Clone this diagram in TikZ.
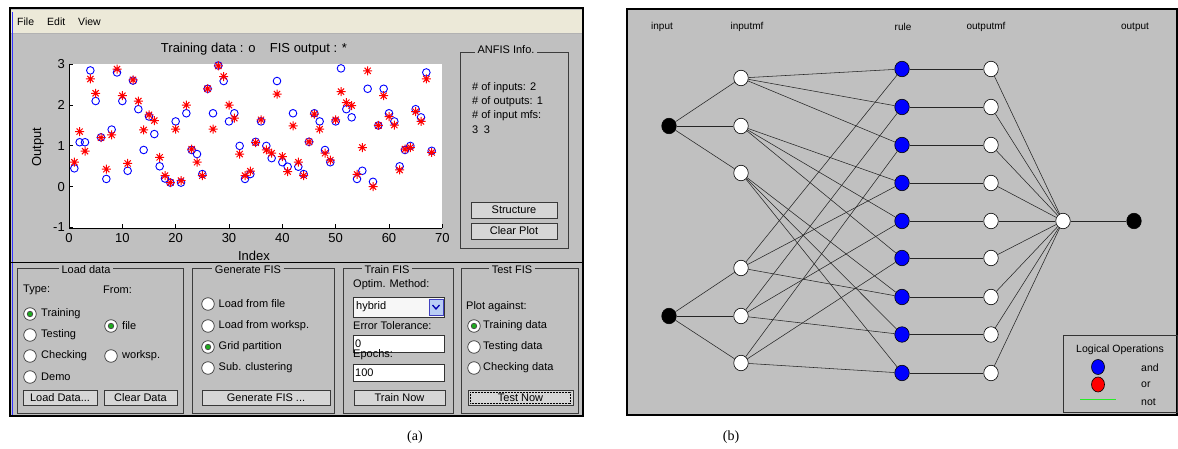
\documentclass[tikz,border=0pt]{standalone}
\usepackage{fontspec}
\setmainfont{Liberation Sans}
\newfontfamily\capfont{Liberation Serif}
\usetikzlibrary{shapes.geometric}
\definecolor{guigray}{RGB}{192,192,192}
\definecolor{menubg}{RGB}{236,233,216}
\definecolor{btnface}{RGB}{214,214,214}
\definecolor{framedark}{RGB}{60,60,60}
\definecolor{mblue}{RGB}{0,0,255}
\definecolor{mred}{RGB}{255,0,0}
\definecolor{chk}{RGB}{30,170,30}
\definecolor{arrowbtn}{RGB}{185,205,245}
\definecolor{legline}{RGB}{40,235,40}
\tikzset{
  guitxt/.style={font=\fontsize{11}{13}\selectfont, inner sep=0pt, anchor=west},
  plottxt/.style={font=\fontsize{13}{15}\selectfont, inner sep=0pt},
  frametitle/.style={font=\fontsize{11}{13}\selectfont, fill=guigray, inner xsep=3pt, inner ysep=1pt},
  guiframe/.style={draw=framedark, line width=0.8pt},
  guibtn/.style={draw=gray!45!black, fill=btnface, font=\fontsize{11}{13}\selectfont, inner sep=0pt, minimum height=15.5pt},
  radiobtn/.style={circle, draw=gray!45!black, fill=white, minimum size=12.5pt, inner sep=0pt, line width=0.7pt},
  radioon/.style={radiobtn, path picture={\fill[gray!60!black] (path picture bounding box.center) circle (3.2pt);\fill[chk] (path picture bounding box.center) circle (2.2pt);}},
  field/.style={draw=gray!40!black, fill=white, line width=0.6pt},
  nettxt/.style={font=\fontsize{10}{12}\selectfont, inner sep=0pt},
  netnode/.style={ellipse, minimum width=14.5pt, minimum height=15.5pt, inner sep=0pt, draw=black, line width=0.6pt},
  inpnode/.style={netnode, fill=black},
  mfnode/.style={netnode, fill=white},
  rulenode/.style={netnode, fill=mblue},
  ornode/.style={netnode, fill=mred},
  netedge/.style={draw=black!85, line width=0.55pt},
}
\begin{document}
\begin{tikzpicture}[x=1pt,y=-1pt]
\useasboundingbox (0,0) rectangle (1178,449);

% ===================== (a) ANFIS editor window =====================
\fill[guigray] (10,8) rectangle (583,416);
\fill[menubg] (11,10) rectangle (583,33);
\draw[gray!60, line width=0.6pt] (11,33.5) -- (583,33.5);
\draw[mblue!80, line width=1pt] (12,12) -- (12,415);
\draw[black, line width=1.6pt] (10,8) rectangle (583,416);
\node[guitxt, font=\fontsize{10.5}{12}\selectfont] (mfile) at (17,22) {File};
\node[guitxt, font=\fontsize{10.5}{12}\selectfont] (medit) at (47,22) {Edit};
\node[guitxt, font=\fontsize{10.5}{12}\selectfont] (mview) at (78,22) {View};

% plot
\node[plottxt] (ptitle) at (254,49) {Training data : o\hspace{1.1em}FIS output : *};
\fill[white] (69,64) rectangle (442,228);
\draw[black, line width=0.8pt] (69,64) -- (69,228) -- (442,228);
\foreach \v/\yy in {3/64,2/104.9,1/145.7,0/186.7,-1/227.5}{
  \draw[black, line width=0.7pt] (69,\yy) -- (72.5,\yy);
  \node[plottxt, anchor=east] at (65,\yy) {\v};
}
\foreach \k in {0,10,...,70}{
  \pgfmathsetmacro\xx{69+5.3333*\k}
  \draw[black, line width=0.7pt] (\xx,228) -- (\xx,224.5);
  \node[plottxt] at (\xx,238) {\k};
}
\node[plottxt] (xlab) at (254,256) {Index};
\node[plottxt, rotate=90] (ylab) at (38,147) {Output};

\def\pdata{1/0.45/0.6, 2/1.09/1.35, 3/1.09/0.87, 4/2.85/2.64, 5/2.1/2.29, 6/1.21/1.2, 7/0.19/0.43, 8/1.4/1.27, 9/2.8/2.88, 10/2.1/2.23, 11/0.39/0.57, 12/2.6/2.62, 13/1.9/2.1, 14/0.9/1.39, 15/1.72/1.76, 16/1.29/1.62, 17/0.5/0.72, 18/0.2/0.27, 19/0.1/0.1, 20/1.6/1.41, 21/0.1/0.15, 22/1.8/2.0, 23/0.9/0.92, 24/0.8/0.6, 25/0.31/0.27, 26/2.4/2.4, 27/1.8/1.41, 28/2.97/2.96, 29/2.59/2.7, 30/1.6/2.0, 31/1.8/1.68, 32/1.0/0.8, 33/0.19/0.27, 34/0.31/0.38, 35/1.1/1.08, 36/1.6/1.64, 37/1.0/0.9, 38/0.7/0.82, 39/2.59/2.27, 40/0.6/0.74, 41/0.49/0.37, 42/1.8/1.49, 43/0.49/0.6, 44/0.31/0.27, 45/1.1/1.1, 46/1.8/1.78, 47/1.6/1.41, 48/0.9/0.82, 49/0.6/0.65, 50/1.6/1.64, 51/2.9/2.33, 52/1.9/2.06, 53/1.7/1.99, 54/0.19/0.3, 55/0.39/0.96, 56/2.4/2.84, 57/0.12/0.0, 58/1.5/1.5, 59/2.4/2.23, 60/1.8/1.72, 61/1.6/1.51, 62/0.5/0.41, 63/0.9/0.92, 64/1.0/0.96, 65/1.9/1.84, 66/1.7/1.6, 67/2.8/2.64, 68/0.88/0.84}
\foreach \k/\c/\s in \pdata{
  \pgfmathsetmacro\xx{69+5.3333*\k}
  \pgfmathsetmacro\yc{186.7-40.8*\c}
  \draw[mblue, line width=0.9pt] (\xx,\yc) circle (3.8pt);
}
\foreach \k/\c/\s in \pdata{
  \pgfmathsetmacro\xx{69+5.3333*\k}
  \pgfmathsetmacro\ys{186.7-40.8*\s}
  \begin{scope}[shift={(\xx,\ys)}]
    \draw[mred, line width=1pt] (-4.5,0) -- (4.5,0) (0,-4.5) -- (0,4.5) (-3.1,-3.1) -- (3.1,3.1) (-3.1,3.1) -- (3.1,-3.1);
  \end{scope}
}

% ANFIS info frame
\draw[guiframe] (460,52) rectangle (568,248);
\node[frametitle] (anfisttl) at (506,50) {ANFIS Info.};
\node[guitxt] (inf1) at (472,88) {\# of inputs: 2};
\node[guitxt] (inf2) at (472,102) {\# of outputs: 1};
\node[guitxt] (inf3) at (472,115.5) {\# of input mfs:};
\node[guitxt] (inf4) at (472,129.5) {3\hspace{0.5em}3};
\node[guibtn, minimum width=86pt] (bstruct) at (514,210) {Structure};
\node[guibtn, minimum width=86pt] (bclear) at (514,231) {Clear Plot};

% separator above bottom panels
\draw[black, line width=0.9pt] (11,262) -- (583,262);

% Load data
\draw[guiframe] (17,268) rectangle (183,413);
\node[frametitle] (ldttl) at (86,269.5) {Load data};
\node[guitxt] (ltype) at (23,290) {Type:};
\node[guitxt] (lfrom) at (103,290) {From:};
\node[radioon] (rtrain) at (30,314) {};
\node[guitxt] at (41,314) {Training};
\node[radiobtn] (rtest) at (30,335) {};
\node[guitxt] at (41,335) {Testing};
\node[radiobtn] (rcheck) at (30,356) {};
\node[guitxt] at (41,356) {Checking};
\node[radiobtn] (rdemo) at (30,377) {};
\node[guitxt] at (41,377) {Demo};
\node[radioon] (rfile) at (111,326) {};
\node[guitxt] at (122,326) {file};
\node[radiobtn] (rwork) at (111,356) {};
\node[guitxt] at (122,356) {worksp.};
\node[guibtn, minimum width=74pt] (bload) at (60,397.5) {Load Data...};
\node[guibtn, minimum width=73pt] (bcleard) at (140.5,397.5) {Clear Data};

% Generate FIS
\draw[guiframe] (192,268) rectangle (334,413);
\node[frametitle] (gfttl) at (248,269.5) {Generate FIS};
\node[radiobtn] (gr1) at (208,304) {};
\node[guitxt] at (218.5,304) {Load from file};
\node[radiobtn] (gr2) at (208,326) {};
\node[guitxt] at (218.5,326) {Load from worksp.};
\node[radioon] (gr3) at (208,347) {};
\node[guitxt] at (218.5,347) {Grid partition};
\node[radiobtn] (gr4) at (208,368) {};
\node[guitxt] at (218.5,368) {Sub. clustering};
\node[guibtn, minimum width=128pt] (bgen) at (266,397.5) {Generate FIS ...};

% Train FIS
\draw[guiframe] (343,268) rectangle (453,413);
\node[frametitle] (tfttl) at (387,269.5) {Train FIS};
\node[guitxt] (optm) at (353,285) {Optim. Method:};
\draw[draw=gray!40!black, fill=gray!6, line width=0.6pt] (353,297) rectangle (444,317);
\node[guitxt] (hyb) at (356,307) {hybrid};
\draw[draw=mblue!50!gray, fill=arrowbtn, line width=0.5pt] (429,299) rectangle (443,315);
\draw[mblue!70!black, line width=1.3pt] (432.5,305) -- (436,309) -- (439.5,305);
\node[guitxt] (errt) at (353,326) {Error Tolerance:};
\draw[field] (353,335) rectangle (444,352);
\node[guitxt] (errv) at (355,343.5) {0};
\node[guitxt] (epo) at (353,355) {Epochs:};
\draw[field] (353,364) rectangle (444,381);
\node[guitxt] (epov) at (355,372.5) {100};
\node[guibtn, minimum width=91pt] (btrain) at (399.5,397.5) {Train Now};

% Test FIS
\draw[guiframe] (461,268) rectangle (578,413);
\node[frametitle] (tsttl) at (512,269.5) {Test FIS};
\node[guitxt] (plota) at (466,307) {Plot against:};
\node[radioon] (tr1) at (474,326) {};
\node[guitxt] at (483,326) {Training data};
\node[radiobtn] (tr2) at (474,347) {};
\node[guitxt] at (483,347) {Testing data};
\node[radiobtn] (tr3) at (474,368) {};
\node[guitxt] at (483,368) {Checking data};
\node[guibtn, minimum width=105pt] (btest) at (520.5,397.5) {Test Now};
\draw[black, densely dotted, line width=0.5pt] (470.5,392) rectangle (570.5,403);

\node[font=\capfont\fontsize{14}{16}\selectfont, inner sep=0pt] (capa) at (415,437) {(a)};

% ===================== (b) ANFIS structure =====================
\draw[fill=guigray, draw=black, line width=1.6pt] (627,9) rectangle (1177,415);
\node[nettxt] (linput) at (662,27) {input};
\node[nettxt] (linmf) at (747,27) {inputmf};
\node[nettxt] (lrule) at (903,27) {rule};
\node[nettxt] (loutmf) at (986,27) {outputmf};
\node[nettxt] (loutput) at (1135,27) {output};

\node[inpnode] (i1) at (669,126) {};
\node[inpnode] (i2) at (669,316) {};
\foreach \n/\yy in {1/78,2/126,3/173,4/268,5/316,6/363}{
  \node[mfnode] (m\n) at (741,\yy) {};
}
\foreach \n/\yy in {1/69,2/107,3/145,4/183,5/221,6/258,7/297,8/334.5,9/373}{
  \node[rulenode] (r\n) at (902,\yy) {};
  \node[mfnode] (o\n) at (991,\yy) {};
}
\node[mfnode] (agg) at (1063,221) {};
\node[inpnode] (out) at (1134,221) {};

\foreach \n in {1,2,3}{ \draw[netedge] (i1) -- (m\n); }
\foreach \n in {4,5,6}{ \draw[netedge] (i2) -- (m\n); }
\foreach \i in {1,2,3}{
  \foreach \j in {1,2,3}{
    \pgfmathtruncatemacro\rr{3*(\i-1)+\j}
    \pgfmathtruncatemacro\mm{\j+3}
    \draw[netedge] (m\i) -- (r\rr);
    \draw[netedge] (m\mm) -- (r\rr);
  }
}
\foreach \n in {1,...,9}{
  \draw[netedge] (r\n) -- (o\n);
  \draw[netedge] (o\n) -- (agg);
}
\draw[netedge] (agg) -- (out);

% legend
\draw[draw=black!80, line width=0.8pt] (1063,335) rectangle (1177,412);
\node[font=\fontsize{10.5}{12}\selectfont, inner sep=0pt] (legt) at (1120,350) {Logical Operations};
\node[rulenode, minimum width=13pt, minimum height=15pt] (legand) at (1098,367) {};
\node[ornode, minimum width=13pt, minimum height=15pt] (legor) at (1098,384.5) {};
\coordinate (lg1) at (1080,399.5);
\coordinate (lg2) at (1116,399.5);
\draw[legline, line width=1.4pt] (lg1) -- (lg2);
\node[nettxt, anchor=west, font=\fontsize{10.5}{12}\selectfont] (ltand) at (1141,368) {and};
\node[nettxt, anchor=west, font=\fontsize{10.5}{12}\selectfont] (ltor) at (1141,384.5) {or};
\node[nettxt, anchor=west, font=\fontsize{10.5}{12}\selectfont] (ltnot) at (1141,402) {not};

\node[font=\capfont\fontsize{14}{16}\selectfont, inner sep=0pt] (capb) at (731,437) {(b)};
\end{tikzpicture}
\end{document}
